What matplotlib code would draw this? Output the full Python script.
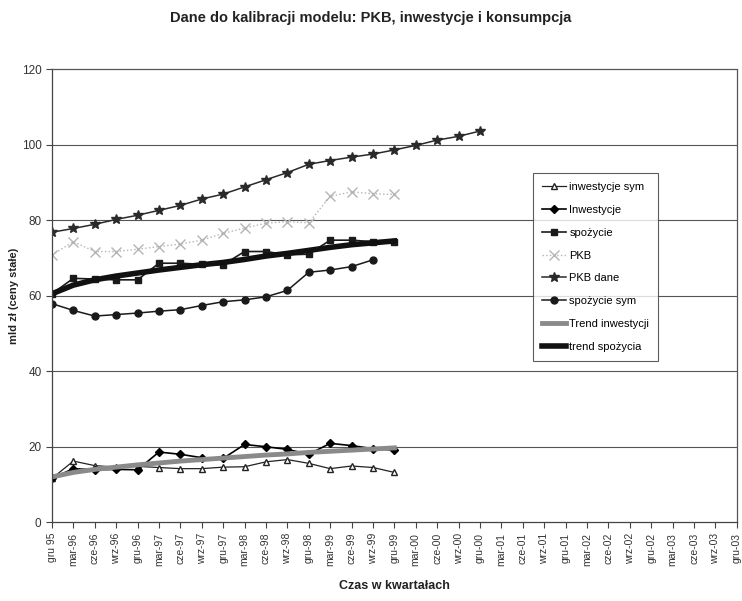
import matplotlib
matplotlib.use("Agg")
import matplotlib.pyplot as plt
import numpy as np

plt.rcParams['font.family'] = ['Liberation Sans Narrow', 'Liberation Sans', 'DejaVu Sans']

# quarterly labels, gru 95 .. gru-03
quarters = ['gru 95',
            'mar-96', 'cze-96', 'wrz-96', 'gru-96',
            'mar-97', 'cze-97', 'wrz-97', 'gru-97',
            'mar-98', 'cze-98', 'wrz-98', 'gru-98',
            'mar-99', 'cze-99', 'wrz-99', 'gru-99',
            'mar-00', 'cze-00', 'wrz-00', 'gru-00',
            'mar-01', 'cze-01', 'wrz-01', 'gru-01',
            'mar-02', 'cze-02', 'wrz-02', 'gru-02',
            'mar-03', 'cze-03', 'wrz-03', 'gru-03']

# series (mld zł, ceny stałe)
inwestycje_sym = [11.6, 16.2, 15.0, 14.6, 14.8, 14.5, 14.2, 14.2, 14.6,
                  14.7, 16.0, 16.6, 15.6, 14.2, 14.9, 14.5, 13.2]
inwestycje = [11.6, 14.2, 13.9, 14.0, 13.9, 18.6, 18.0, 17.1, 16.9,
              20.6, 20.0, 19.3, 18.0, 20.9, 20.3, 19.5, 19.1]
spozycie = [60.5, 64.6, 64.4, 64.2, 64.2, 68.6, 68.6, 68.3, 68.2,
            71.7, 71.7, 70.8, 71.0, 74.7, 74.7, 74.3, 74.3]
pkb = [70.8, 74.3, 71.7, 71.7, 72.3, 73.0, 73.7, 74.7, 76.5,
       77.9, 79.2, 79.6, 79.3, 86.3, 87.5, 87.0, 86.8]
pkb_dane = [76.8, 77.8, 78.9, 80.2, 81.3, 82.6, 83.9, 85.6, 86.9,
            88.8, 90.7, 92.6, 94.8, 95.8, 96.7, 97.5, 98.6, 99.8,
            101.2, 102.2, 103.6]
spozycie_sym = [57.9, 56.1, 54.6, 55.0, 55.4, 55.9, 56.3, 57.4, 58.4,
                58.9, 59.7, 61.4, 66.2, 66.8, 67.7, 69.5]
trend_inwestycji = [12.0, 13.2, 14.0, 14.6, 15.2, 15.7, 16.2, 16.6, 17.0,
                    17.4, 17.8, 18.1, 18.5, 18.8, 19.1, 19.4, 19.7]
trend_spozycia = [60.5, 62.8, 64.2, 65.2, 66.0, 66.8, 67.5, 68.2, 68.8,
                  69.6, 70.5, 71.2, 72.0, 72.8, 73.5, 74.0, 74.5]


def idx(series):
    return np.arange(len(series))


fig = plt.figure(figsize=(7.42, 6.01), dpi=100)
ax = fig.add_axes([0.070, 0.131, 0.923, 0.754])

ax.plot(idx(inwestycje_sym), inwestycje_sym, color='#222222', lw=0.9,
        marker='^', ms=5, mfc='white', mec='#222222', label='inwestycje sym')
ax.plot(idx(inwestycje), inwestycje, color='black', lw=1.2,
        marker='D', ms=4.5, label='Inwestycje')
ax.plot(idx(spozycie), spozycie, color='#1a1a1a', lw=1.2,
        marker='s', ms=4.5, label='spożycie')
ax.plot(idx(pkb), pkb, color='#b5b5b5', lw=1.0, ls=':',
        marker='x', ms=7, mew=1.0, label='PKB')
ax.plot(idx(pkb_dane), pkb_dane, color='#2a2a2a', lw=1.1,
        marker='*', ms=7, label='PKB dane')
ax.plot(idx(spozycie_sym), spozycie_sym, color='#1a1a1a', lw=1.1,
        marker='o', ms=5, label='spożycie sym')
ax.plot(idx(trend_inwestycji), trend_inwestycji, color='#8a8a8a', lw=3.5,
        label='Trend inwestycji')
ax.plot(idx(trend_spozycia), trend_spozycia, color='#111111', lw=4,
        label='trend spożycia')

ax.set_xlim(0, len(quarters) - 1)
ax.set_ylim(0, 120)
ax.set_yticks(range(0, 121, 20))
ax.set_xticks(range(len(quarters)))
ax.set_xticklabels(quarters, rotation=90, fontsize=7.5, color='#333333')
ax.tick_params(axis='y', labelsize=8.5, labelcolor='#333333', length=4,
               color='#444444')
ax.tick_params(axis='x', length=4, color='#444444')

for v in range(20, 120, 20):
    ax.axhline(v, color='#555555', lw=0.8, zorder=0)

for side in ['left', 'bottom']:
    ax.spines[side].set_color('#444444')
    ax.spines[side].set_linewidth(0.9)
for side in ['top', 'right']:
    ax.spines[side].set_color('#555555')
    ax.spines[side].set_linewidth(0.9)
    ax.spines[side].set_linestyle((0, (2, 1)))

ax.set_ylabel('mld zł (ceny stałe)', fontsize=8, fontweight='bold',
              color='#222222', labelpad=2)
ax.set_xlabel('Czas w kwartałach', fontsize=9, fontweight='bold',
              color='#222222', labelpad=10)
fig.suptitle('Dane do kalibracji modelu: PKB, inwestycje i konsumpcja',
             fontsize=10.5, fontweight='bold', color='#222222', y=0.982)

leg = ax.legend(loc='upper left', bbox_to_anchor=(0.702, 0.770),
                fontsize=8, frameon=True, fancybox=False, labelspacing=1.15,
                handlelength=2.2, handletextpad=0.3, borderpad=0.8,
                borderaxespad=0)
leg.get_frame().set_edgecolor('#333333')
leg.get_frame().set_linewidth(0.8)

fig.savefig('out.png', dpi=100)
